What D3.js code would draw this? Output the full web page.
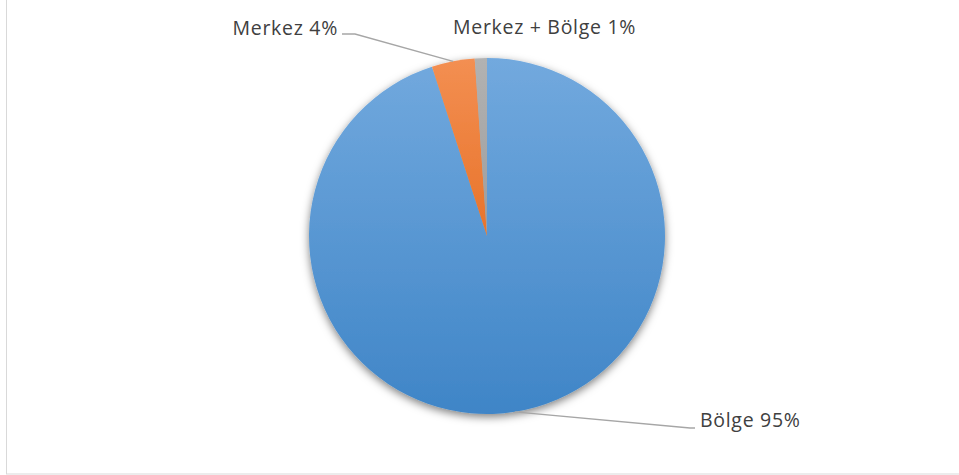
<!DOCTYPE html>
<html>
<head>
<meta charset="utf-8">
<script src="https://cdn.jsdelivr.net/npm/d3@7"></script>
<style>
  body { margin: 0; background: #fff; }
  text { font-family: "Open Sans", sans-serif; fill: #404040; }
</style>
</head>
<body>
<script>
var svgWidth = 959;
var svgHeight = 475;

// data
var categories = ["Bölge", "Merkez", "Merkez + Bölge"];
var values = [95.0, 3.9, 1.1];
var labels = ["Bölge 95%", "Merkez 4%", "Merkez + Bölge 1%"];
var colorsTop = ["#72a9de", "#f38f52", "#b2b2b2"];
var colorsBottom = ["#3f85c7", "#e8732a", "#9d9d9d"];

var cx = 487, cy = 236, radius = 178;

var svg = d3.select("body").append("svg").attr("width", svgWidth).attr("height", svgHeight);

// chart area border (cut off at top and right)
svg.append("rect")
    .attr("x", 6.5).attr("y", -5)
    .attr("width", 1000).attr("height", 479)
    .attr("fill", "none")
    .attr("stroke", "#d9d9d9")
    .attr("stroke-width", 1);

var defs = svg.append("defs");
var shadow = defs.append("filter").attr("id", "shadow")
    .attr("x", "-20%").attr("y", "-20%").attr("width", "140%").attr("height", "140%");
shadow.append("feDropShadow")
    .attr("dx", 0).attr("dy", 3)
    .attr("stdDeviation", 4)
    .attr("flood-color", "#000")
    .attr("flood-opacity", 0.5);

categories.forEach(function(c, i) {
  var g = defs.append("linearGradient").attr("id", "grad" + i)
      .attr("x1", 0).attr("y1", 0).attr("x2", 0).attr("y2", 1);
  g.append("stop").attr("offset", "0%").attr("stop-color", colorsTop[i]);
  g.append("stop").attr("offset", "100%").attr("stop-color", colorsBottom[i]);
});

var pie = d3.pie().sort(null).value(function(d) { return d; });
var arcs = pie(values);
var arc = d3.arc().innerRadius(0).outerRadius(radius);

var chart = svg.append("g").attr("transform", `translate(${cx},${cy})`);

chart.append("g").attr("filter", "url(#shadow)")
  .selectAll("path")
  .data(arcs)
  .enter().append("path")
    .attr("d", arc)
    .attr("fill", function(d, i) { return "url(#grad" + i + ")"; });

// label positions (absolute), and leader line elbows
var labelPos = [
  {x: 700, y: 427, anchor: "start", line: [[690, 428], [695, 428]]},
  {x: 338, y: 35, anchor: "end", line: [[355, 34], [342, 34]]},
  {x: 453, y: 34, anchor: "start", line: null}
];

arcs.forEach(function(d, i) {
  var p = labelPos[i];
  if (p.line) {
    var mid = (d.startAngle + d.endAngle) / 2;
    var start = [cx + radius * Math.sin(mid), cy - radius * Math.cos(mid)];
    var pts = [start].concat(p.line);
    svg.append("path")
      .attr("d", d3.line()(pts))
      .attr("fill", "none")
      .attr("stroke", "#a6a6a6")
      .attr("stroke-width", 1.3);
  }
  svg.append("text")
    .attr("x", p.x).attr("y", p.y)
    .attr("text-anchor", p.anchor)
    .attr("font-size", 19.5)
    .attr("letter-spacing", 0.7)
    .text(labels[i]);
});
</script>
</body>
</html>
